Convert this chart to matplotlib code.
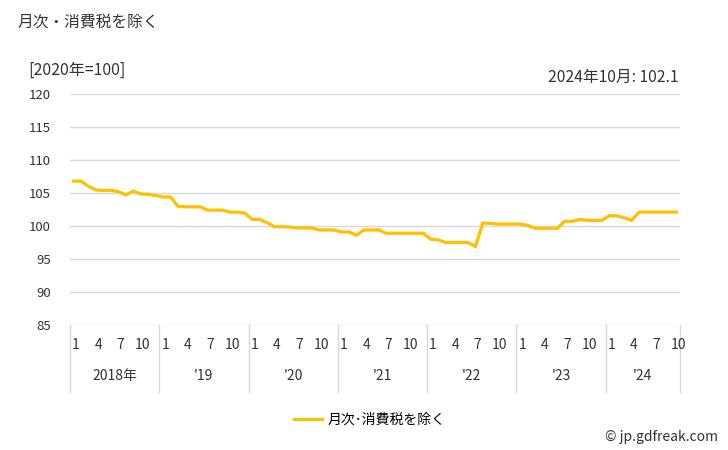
import matplotlib
matplotlib.use("Agg")
import matplotlib.pyplot as plt
import matplotlib.transforms as mtransforms

plt.rcParams['font.family'] = ['Noto Sans CJK JP', 'DejaVu Sans']

years = ['2018年', "'19", "'20", "'21", "'22", "'23", "'24"]
month_ticks = [1, 4, 7, 10]
values_2018 = [106.8, 106.8, 106.0, 105.45, 105.4, 105.4, 105.2, 104.7, 105.3, 104.85, 104.8, 104.6]
values_2019 = [104.4, 104.4, 103.0, 102.9, 102.9, 102.9, 102.4, 102.4, 102.4, 102.1, 102.1, 101.95]
values_2020 = [101.0, 101.0, 100.5, 99.9, 99.9, 99.85, 99.7, 99.7, 99.7, 99.4, 99.4, 99.4]
values_2021 = [99.1, 99.1, 98.6, 99.4, 99.4, 99.4, 98.9, 98.9, 98.9, 98.9, 98.9, 98.9]
values_2022 = [98.0, 97.9, 97.5, 97.5, 97.5, 97.5, 96.9, 100.45, 100.4, 100.3, 100.3, 100.3]
values_2023 = [100.3, 100.1, 99.65, 99.65, 99.65, 99.65, 100.7, 100.7, 101.0, 100.85, 100.85, 100.85]
values_2024 = [101.55, 101.55, 101.25, 100.85, 102.1, 102.1, 102.1, 102.1, 102.1, 102.1]
series_label = '月次･消費税を除く'
yticks = [85, 90, 95, 100, 105, 110, 115, 120]

yearly = [values_2018, values_2019, values_2020, values_2021, values_2022, values_2023, values_2024]
values = [v for yv in yearly for v in yv]
n = len(values)

W, H = 728, 450
fig = plt.figure(figsize=(W / 100, H / 100), dpi=100)
ax = fig.add_axes([70 / W, 1 - 325 / H, 610 / W, 231 / H])

ax.plot(range(n), values, color='#FFC000', lw=2.3, solid_joinstyle='miter', label=series_label, zorder=3)
ax.set_xlim(-0.5, n - 0.5)
ax.set_ylim(85, 120)
ax.set_yticks(yticks)
ax.yaxis.grid(True, color='#d9d9d9', lw=1)
ax.set_axisbelow(True)
for s in ax.spines.values():
    s.set_visible(False)
ax.tick_params(axis='y', length=0, pad=14, labelsize=9.5, labelcolor='#333333')
ax.set_xticks([])

trans = mtransforms.blended_transform_factory(ax.transData, ax.transAxes)
bounds = [0]
for yv in yearly:
    bounds.append(bounds[-1] + len(yv))
for b in bounds:
    ax.plot([b - 0.5, b - 0.5], [0, -67 / 231], transform=trans, color='#d9d9d9', lw=1, clip_on=False)
for yi, yv in enumerate(yearly):
    base = bounds[yi]
    for m in month_ticks:
        if m <= len(yv):
            ax.text(base + m - 1 + 0.3, -20 / 231, str(m), transform=trans, ha='center', va='center',
                    fontsize=10, color='#333333')
    ax.text(base + len(yv) / 2 - 0.5, -51 / 231, years[yi], transform=trans, ha='center', va='center',
            fontsize=10, color='#333333')

fig.text(18 / W, 1 - 22 / H, '月次・消費税を除く', ha='left', va='center', fontsize=11.3, color='#333333')
fig.text(28 / W, 1 - 70 / H, '[2020年=100]', ha='left', va='center', fontsize=11.5, color='#333333')
fig.text(679 / W, 1 - 77 / H, '2024年10月: 102.1', ha='right', va='center', fontsize=11.3, color='#333333')
fig.text(718 / W, 1 - 437 / H, '© jp.gdfreak.com', ha='right', va='center', fontsize=10, color='#333333')

fig.legend(loc='center', bbox_to_anchor=(0.508, 1 - 420 / H), frameon=False, fontsize=10,
           handlelength=2.0, handletextpad=0.4)

fig.savefig('out.png', dpi=100)
